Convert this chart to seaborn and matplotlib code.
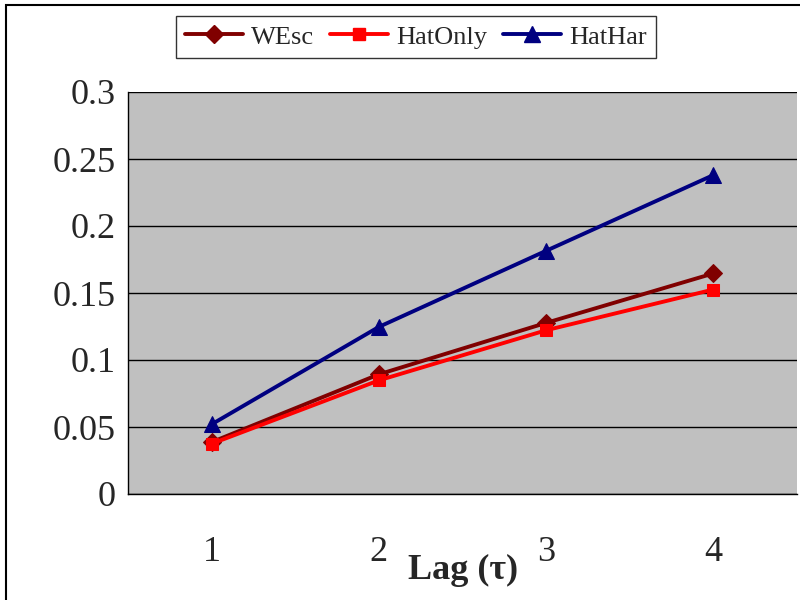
import matplotlib
matplotlib.use("Agg")
import matplotlib.pyplot as plt
import seaborn as sns
import pandas as pd
from matplotlib.patches import Rectangle
from matplotlib.lines import Line2D

lags = [1, 2, 3, 4]
tick_labels = ["1", "2", "3", "4"]
wesc = [0.0387, 0.0893, 0.1277, 0.1646]
hatonly = [0.0375, 0.0848, 0.1222, 0.1526]
hathar = [0.0520, 0.1247, 0.1815, 0.2380]
series_names = ["WEsc", "HatOnly", "HatHar"]

df = pd.DataFrame({
    "lag": lags * 3,
    "value": wesc + hatonly + hathar,
    "series": [series_names[0]] * 4 + [series_names[1]] * 4 + [series_names[2]] * 4,
})

sns.set_theme(style="white")
plt.rcParams["font.family"] = ["Liberation Serif", "DejaVu Serif"]

fig = plt.figure(figsize=(8, 6), dpi=100)
ax = fig.add_axes([128 / 800, 1 - 494 / 600, (797 - 128) / 800, (494 - 92) / 600])
ax.set_facecolor("#C0C0C0")

palette = {"WEsc": "#800000", "HatOnly": "#FF0000", "HatHar": "#000080"}
markers = {"WEsc": "D", "HatOnly": "s", "HatHar": "^"}
sizes = {"WEsc": 9, "HatOnly": 9, "HatHar": 11}

for name in series_names:
    sub = df[df["series"] == name]
    sns.lineplot(data=sub, x="lag", y="value", ax=ax, color=palette[name],
                 marker=markers[name], markersize=sizes[name],
                 markeredgecolor=palette[name], linewidth=2.8, legend=False)

ax.set_xlim(0.5, 4.5)
ax.set_ylim(0, 0.3)
ax.set_yticks([0, 0.05, 0.1, 0.15, 0.2, 0.25, 0.3])
ax.set_yticklabels(["0", "0.05", "0.1", "0.15", "0.2", "0.25", "0.3"], fontsize=26)
ax.yaxis.grid(True, color="black", linewidth=1)
ax.set_axisbelow(True)

ax.set_xticks(lags)
ax.set_xticklabels(tick_labels, fontsize=26)
ax.set_xticks([0.5, 1.5, 2.5, 3.5, 4.5], minor=True)
ax.tick_params(axis="x", which="major", length=0, pad=30)
ax.tick_params(axis="x", which="minor", length=8, color="black", width=1, direction="out")
ax.tick_params(axis="y", which="major", length=5, color="black", width=1, direction="out", pad=4)
ax.set_xlabel("")
ax.set_ylabel("")

for s in ["top", "right"]:
    ax.spines[s].set_visible(False)
for s in ["left", "bottom"]:
    ax.spines[s].set_color("black")
    ax.spines[s].set_linewidth(1)

fig.text(463 / 800, 1 - 570 / 600, "Lag (τ)", ha="center", va="center",
         fontsize=26, fontweight="bold")

handles = [Line2D([0], [0], color=palette[n], marker=markers[n], markersize=sizes[n],
                  markeredgecolor=palette[n], linewidth=2.8) for n in series_names]
leg = fig.legend(handles, series_names, loc="center", bbox_to_anchor=(416 / 800, 1 - 37 / 600),
                 ncol=3, fontsize=19, frameon=True, fancybox=False, edgecolor="black",
                 handlelength=2.2, handletextpad=0.3, columnspacing=0.6, borderpad=0.35)
leg.get_frame().set_linewidth(1)

fig.patches.append(Rectangle((6 / 800, -0.1), 1.2, 1 - 5 / 600 + 0.1, transform=fig.transFigure,
                             fill=False, edgecolor="black", linewidth=1.5))

fig.savefig("out.png", dpi=100)
